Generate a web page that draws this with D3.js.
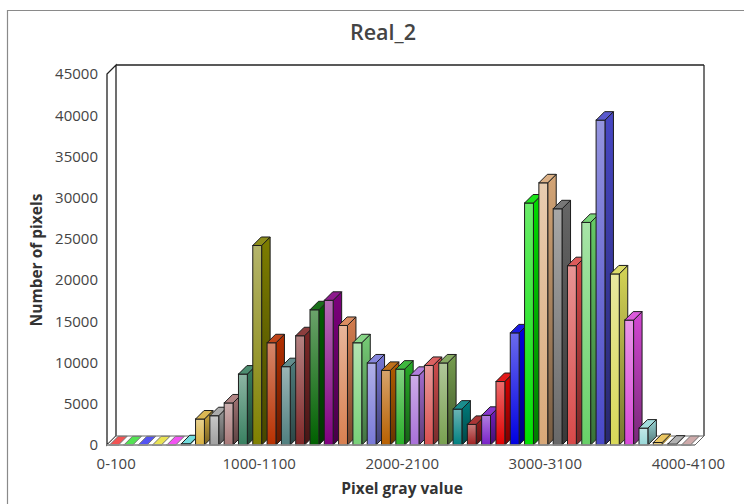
<!DOCTYPE html>
<html>
<head>
<meta charset="utf-8">
<script src="https://cdn.jsdelivr.net/npm/d3@7"></script>
<style>
html,body{margin:0;padding:0;background:#fff;overflow:hidden}
svg{display:block}
text{font-family:"Open Sans",sans-serif}
</style>
</head>
<body>
<svg id="chart" width="744" height="504"></svg>
<script>
// Histogram bins, 100 gray levels wide
const binStarts = d3.range(0, 4100, 100);
const categories = binStarts.map(s => s + "-" + (s + 100));
const counts = [
  20, 20, 20, 20, 20, 150, 3150, 3550, 5100, 8600,
  24200, 12400, 9500, 13250, 16400, 17550, 14500, 12400, 9950, 9050,
  9200, 8450, 9650, 9950, 4350, 2500, 3600, 7700, 13600, 29350,
  31800, 28650, 21750, 27000, 39400, 20750, 15150, 2050, 300, 100, 50
];
const barColors = [
  "#f04040", "#40e040", "#4040f0", "#e8e040", "#f040f0", "#60d8d8", "#d8b040", "#a0a0a0", "#a87878", "#388060",
  "#808000", "#b83000", "#508080", "#802828", "#006000", "#800080", "#d88050", "#78d078", "#7878d8", "#b86000",
  "#28b028", "#a870d8", "#d85050", "#78a050", "#008080", "#a02020", "#7820c8", "#e00000", "#0000e0", "#00e000",
  "#d8a878", "#686868", "#d84848", "#68d068", "#4848c8", "#d8d858", "#d848d8", "#98d8d8", "#e8c050", "#a8a8a8",
  "#c8a0a0"
];
const yTicks = d3.range(0, 50000, 5000);
const xTickLabels = ["0-100", "1000-1100", "2000-2100", "3000-3100", "4000-4100"];

const chartTitle = "Real_2";
const xTitle = "Pixel gray value";
const yTitle = "Number of pixels";

const frontLeft = 107, frontRight = 695, baseY = 445, topY = 74, depth = 9, barDepth = 8.5;

const x = d3.scaleBand().domain(categories).range([frontLeft, 693.5]).paddingInner(0.38).paddingOuter(0.19);
const y = d3.scaleLinear().domain([0, 45000]).range([baseY, topY]);

const svg = d3.select("#chart");
const defs = svg.append("defs");

// Outer frame, open towards the right and bottom edges of the page
svg.append("path")
  .attr("d", "M7.5,504V10.5H744")
  .attr("fill", "none").attr("stroke", "#8a8a8a").attr("stroke-width", 1.2);

// Back wall, left wall and floor of the 3D box
svg.append("rect")
  .attr("x", frontLeft + depth).attr("y", topY - depth)
  .attr("width", frontRight - frontLeft).attr("height", baseY - topY)
  .attr("fill", "#fff");
svg.append("path")
  .attr("d", `M${frontRight + depth},${topY - depth}V${baseY - depth}`)
  .attr("fill", "none").attr("stroke", "#666").attr("stroke-width", 1.8);
svg.append("path")
  .attr("d", `M${frontLeft},${baseY}V${topY}L${frontLeft + depth},${topY - depth}V${baseY - depth}Z`)
  .attr("fill", "#fff").attr("stroke", "#222").attr("stroke-width", 1.3);
svg.append("path")
  .attr("d", `M${frontLeft + depth},${topY - depth}H${frontRight + depth}`)
  .attr("fill", "none").attr("stroke", "#222").attr("stroke-width", 1.3);
svg.append("path")
  .attr("d", `M${frontLeft},${baseY}L${frontLeft + depth},${baseY - depth}H${frontRight + depth}L${frontRight},${baseY}Z`)
  .attr("fill", "#fff").attr("stroke", "#666").attr("stroke-width", 1);

// Vertical fades for each bar's front and side faces
barColors.forEach((c, i) => {
  const white = d3.interpolateRgb(c, "#fff");
  const black = d3.interpolateRgb(c, "#000");
  const addGrad = (id, stops) => {
    const g = defs.append("linearGradient").attr("id", id).attr("x1", 0).attr("y1", 0).attr("x2", 0).attr("y2", 1);
    stops.forEach((s, k) => g.append("stop").attr("offset", k / (stops.length - 1)).attr("stop-color", s));
  };
  addGrad("front" + i, [white(0.42), c]);
  addGrad("side" + i, [black(0.02), black(0.45)]);
});

const bars = svg.append("g").selectAll("g").data(categories).join("g");
const w = x.bandwidth();
const outline = "#1c1c1c";

// Side face
bars.append("path")
  .attr("d", (d, i) => {
    const x1 = x(d) + w, t = y(counts[i]);
    return `M${x1},${baseY}L${x1 + barDepth},${baseY - barDepth}V${t - barDepth}L${x1},${t}Z`;
  })
  .attr("fill", (d, i) => `url(#side${i})`)
  .attr("stroke", (d, i) => counts[i] < 500 ? "none" : outline).attr("stroke-width", 1);

// Front face
bars.append("rect")
  .attr("x", d => x(d))
  .attr("y", (d, i) => y(counts[i]))
  .attr("width", w)
  .attr("height", (d, i) => baseY - y(counts[i]))
  .attr("fill", (d, i) => `url(#front${i})`)
  .attr("stroke", outline).attr("stroke-width", 1);

// Top face
bars.append("path")
  .attr("d", (d, i) => {
    const x0 = x(d), t = y(counts[i]);
    return `M${x0},${t}L${x0 + barDepth},${t - barDepth}H${x0 + w + barDepth}L${x0 + w},${t}Z`;
  })
  .attr("fill", (d, i) => d3.interpolateRgb(barColors[i], "#fff")(0.1))
  .attr("stroke", (d, i) => counts[i] < 100 ? "#777" : outline).attr("stroke-width", 1);

// Axes
const yAxis = svg.append("g").attr("transform", `translate(${frontLeft},0)`)
  .call(d3.axisLeft(y).tickValues(yTicks).tickSize(0).tickPadding(9).tickFormat(d3.format("d")));
const xAxis = svg.append("g").attr("transform", `translate(2,${baseY})`)
  .call(d3.axisBottom(x)
    .tickValues(xTickLabels)
    .tickSize(0).tickPadding(13));
[yAxis, xAxis].forEach(a => {
  a.select(".domain").remove();
  a.selectAll("text").attr("font-family", '"Open Sans",sans-serif').attr("font-size", 15).attr("fill", "#444");
});
svg.append("line").attr("x1", frontLeft).attr("x2", frontRight).attr("y1", baseY).attr("y2", baseY)
  .attr("stroke", "#999").attr("stroke-width", 1.5);

// Titles
svg.append("text").attr("x", 383).attr("y", 40).attr("text-anchor", "middle")
  .attr("font-size", 21.5).attr("font-weight", 600).attr("fill", "#444").text(chartTitle);
svg.append("text").attr("x", 402).attr("y", 494).attr("text-anchor", "middle")
  .attr("font-size", 15.5).attr("font-weight", 700).attr("fill", "#333").text(xTitle);
svg.append("text").attr("transform", "translate(42,260) rotate(-90)").attr("text-anchor", "middle")
  .attr("font-size", 15.5).attr("font-weight", 700).attr("fill", "#333").text(yTitle);
</script>
</body>
</html>
